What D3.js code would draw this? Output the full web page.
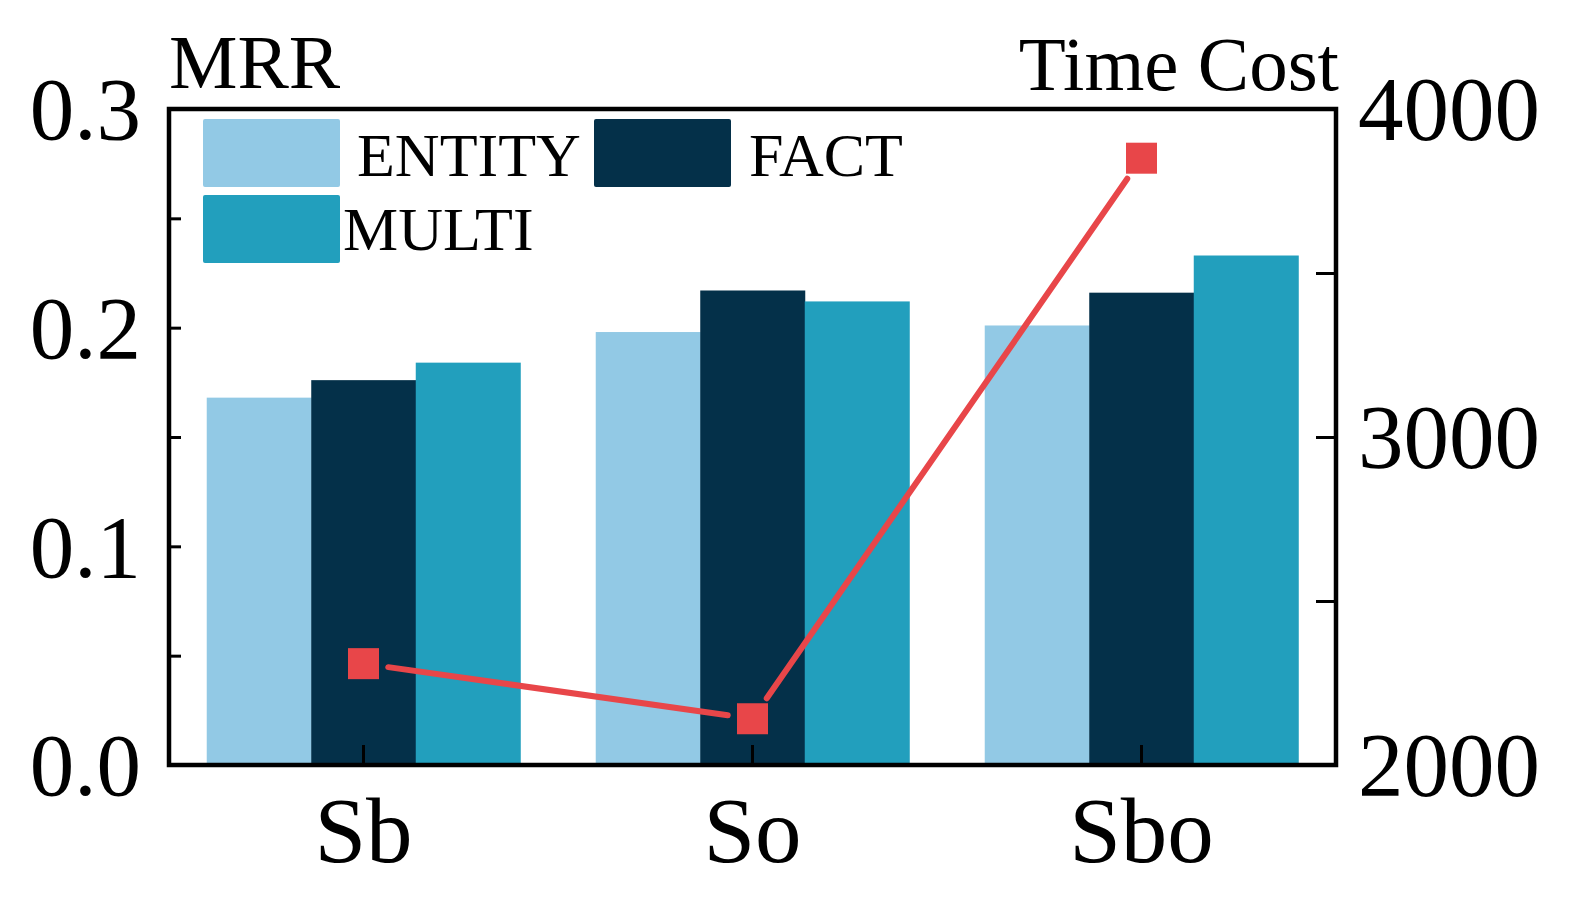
<!DOCTYPE html>
<html><head><meta charset="utf-8">
<script src="https://cdn.jsdelivr.net/npm/d3@7"></script>
<style>html,body{margin:0;padding:0;background:#fff}svg{display:block}text{font-family:"Liberation Serif","Times New Roman",serif;fill:#000}</style>
</head><body><svg id="c" width="1577" height="902"></svg>
<script>
const categories = ["Sb", "So", "Sbo"];
const seriesNames = ["ENTITY", "FACT", "MULTI"];
const entityMRR = [0.168, 0.198, 0.201];
const factMRR = [0.176, 0.217, 0.216];
const multiMRR = [0.184, 0.212, 0.233];
const timeCost = [2309, 2141, 3850];
const leftTicks = [0.0, 0.1, 0.2, 0.3];
const leftMinorTicks = [0.05, 0.15, 0.25];
const rightTicks = [2000, 3000, 4000];
const rightMinorTicks = [2500, 3500];
const colors = ["#92c9e5", "#043049", "#229fbd"];
const lineColor = "#e84649";

const series = [entityMRR, factMRR, multiMRR];
const svg = d3.select("#c");
const L = 169, R = 1336, T = 109, B = 765;

const x0 = d3.scaleBand().domain(categories).range([L, R]).paddingInner(0).paddingOuter(0);
const groupW = x0.bandwidth() * 0.806;
const x1 = d3.scaleBand().domain(seriesNames).range([0, groupW]).padding(0);
const yL = d3.scaleLinear().domain([0, 0.3]).range([B, T]);
const yR = d3.scaleLinear().domain([2000, 4000]).range([B, T]);

// bars
categories.forEach((c, ci) => {
  const gx = x0(c) + (x0.bandwidth() - groupW) / 2;
  seriesNames.forEach((s, si) => {
    const v = series[si][ci];
    svg.append("rect")
      .attr("x", gx + x1(s)).attr("width", x1.bandwidth() + 0.5)
      .attr("y", yL(v)).attr("height", B - yL(v))
      .attr("fill", colors[si]);
  });
});

// line with gaps
const pts = categories.map((c, i) => [x0(c) + x0.bandwidth() / 2, yR(timeCost[i])]);
const gap = 25;
for (let i = 0; i < pts.length - 1; i++) {
  const [ax, ay] = pts[i], [bx, by] = pts[i + 1];
  const d = Math.hypot(bx - ax, by - ay);
  const ux = (bx - ax) / d, uy = (by - ay) / d;
  svg.append("line")
    .attr("x1", ax + ux * gap).attr("y1", ay + uy * gap)
    .attr("x2", bx - ux * gap).attr("y2", by - uy * gap)
    .attr("stroke", lineColor).attr("stroke-width", 6).attr("stroke-linecap", "round");
}
const ms = 31;
pts.forEach(p => {
  svg.append("rect").attr("x", p[0] - ms / 2).attr("y", p[1] - ms / 2)
    .attr("width", ms).attr("height", ms).attr("fill", lineColor);
});

// axes
const fs = 89;
const axL = d3.axisLeft(yL).tickValues(leftTicks.concat(leftMinorTicks)).tickSize(-12).tickFormat("");
const gL = svg.append("g").attr("transform", `translate(${L},0)`).call(axL);
const axR = d3.axisRight(yR).tickValues(rightTicks.concat(rightMinorTicks)).tickSize(-20).tickFormat("");
const gR = svg.append("g").attr("transform", `translate(${R},0)`).call(axR);
const axB = d3.axisBottom(x0).tickSize(-20).tickFormat("");
const gB = svg.append("g").attr("transform", `translate(0,${B})`).call(axB);
[gL, gR, gB].forEach(g => {
  g.select(".domain").remove();
  g.selectAll(".tick line").attr("stroke", "#000").attr("stroke-width", 3);
});
// frame
svg.append("rect").attr("x", L).attr("y", T).attr("width", R - L).attr("height", B - T)
  .attr("fill", "none").attr("stroke", "#000").attr("stroke-width", 4.5);

// tick labels
leftTicks.forEach(t => {
  svg.append("text").attr("x", L - 28).attr("y", yL(t)).attr("dy", "0.34em")
    .attr("text-anchor", "end").attr("font-size", fs).text(d3.format(".1f")(t));
});
rightTicks.forEach(t => {
  svg.append("text").attr("x", R + 22).attr("y", yR(t)).attr("dy", "0.34em")
    .attr("text-anchor", "start").attr("font-size", fs + 2).text(t);
});
categories.forEach(c => {
  svg.append("text").attr("x", x0(c) + x0.bandwidth() / 2).attr("y", 862)
    .attr("text-anchor", "middle").attr("font-size", 93).text(c);
});
svg.append("text").attr("x", L).attr("y", 88).attr("font-size", 77).text("MRR");
svg.append("text").attr("x", 1339).attr("y", 90).attr("text-anchor", "end").attr("font-size", 77).text("Time Cost");

// legend
const legend = [
  {name: "ENTITY", c: colors[0], sx: 203, sy: 119, tx: 357, ty: 176},
  {name: "FACT", c: colors[1], sx: 594, sy: 119, tx: 749, ty: 176},
  {name: "MULTI", c: colors[2], sx: 203, sy: 195, tx: 343, ty: 250}
];
legend.forEach(l => {
  svg.append("rect").attr("x", l.sx).attr("y", l.sy).attr("width", 137).attr("height", 68)
    .attr("rx", 2).attr("fill", l.c);
  svg.append("text").attr("x", l.tx).attr("y", l.ty).attr("font-size", 62).text(l.name);
});
</script></body></html>
